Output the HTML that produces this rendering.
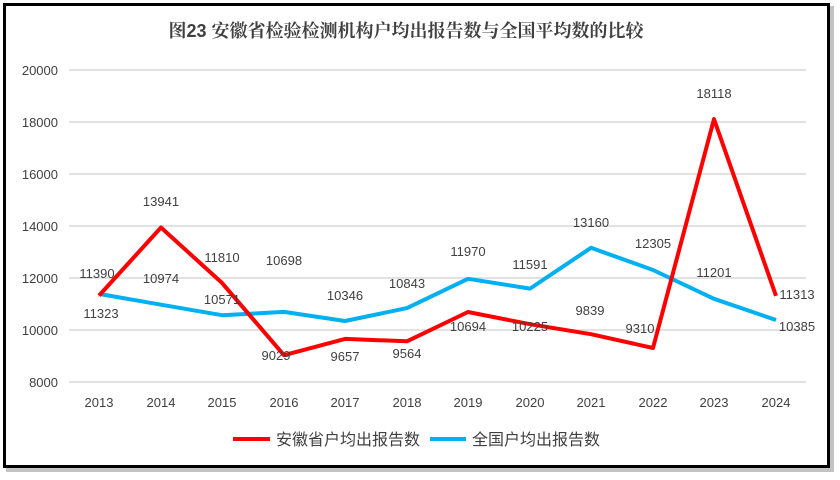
<!DOCTYPE html>
<html><head><meta charset="utf-8"><style>
body{margin:0;width:840px;height:480px;background:#fff;overflow:hidden}
svg{display:block}
text{font-family:"Liberation Sans","Noto Sans CJK SC",sans-serif;fill:#404040}
</style></head><body>
<svg width="840" height="480" viewBox="0 0 840 480">
<rect x="6" y="6" width="828" height="466" fill="#888" opacity="0.5"/>
<rect x="4.5" y="4.5" width="824" height="462" fill="#fff" stroke="#000" stroke-width="3"/>
<text x="406" y="37" font-size="18" font-weight="bold" text-anchor="middle" fill="#404040" style="font-family:'Liberation Sans','Noto Serif CJK SC',serif">图23 安徽省检验检测机构户均出报告数与全国平均数的比较</text>
<g stroke="#d9d9d9" stroke-width="1.5">
<line x1="69" x2="806" y1="70" y2="70"/><line x1="69" x2="806" y1="122" y2="122"/>
<line x1="69" x2="806" y1="174" y2="174"/><line x1="69" x2="806" y1="226" y2="226"/>
<line x1="69" x2="806" y1="278" y2="278"/><line x1="69" x2="806" y1="330" y2="330"/>
<line x1="69" x2="806" y1="382" y2="382"/></g>
<g font-size="13" text-anchor="end">
<text x="58" y="75">20000</text><text x="58" y="127">18000</text><text x="58" y="179">16000</text>
<text x="58" y="231">14000</text><text x="58" y="283">12000</text><text x="58" y="335">10000</text><text x="58" y="387">8000</text></g>
<g font-size="13" text-anchor="middle">
<text x="99" y="407">2013</text><text x="161" y="407">2014</text><text x="222" y="407">2015</text><text x="284" y="407">2016</text>
<text x="345" y="407">2017</text><text x="407" y="407">2018</text><text x="468" y="407">2019</text><text x="530" y="407">2020</text>
<text x="591" y="407">2021</text><text x="653" y="407">2022</text><text x="714" y="407">2023</text><text x="776" y="407">2024</text></g>
<polyline fill="none" stroke="#00b0f0" stroke-width="4" stroke-linejoin="round" points="99,293.9 161,304.7 222,315.2 284,311.9 345,321 407,308.1 468,278.8 530,288.6 591,247.8 653,270 714,298.8 776,320"/>
<polyline fill="none" stroke="#ff0000" stroke-width="4" stroke-linejoin="round" points="99,295.6 161,227.5 222,282.9 284,355.2 345,338.9 407,341.3 468,312 530,324.2 591,334.2 653,348 714,119.1 776,295.9"/>
<g font-size="13" text-anchor="middle">
<text x="101" y="318">11323</text><text x="161" y="206">13941</text><text x="222" y="262">11810</text><text x="276" y="360">9029</text>
<text x="345" y="361">9657</text><text x="407" y="358">9564</text><text x="468" y="331">10694</text><text x="530" y="331">10225</text>
<text x="590" y="315">9839</text><text x="640" y="333">9310</text><text x="714" y="98">18118</text><text x="797" y="299">11313</text>
<text x="97" y="278">11390</text><text x="161" y="283">10974</text><text x="222" y="304">10571</text><text x="284" y="265">10698</text>
<text x="345" y="300">10346</text><text x="407" y="288">10843</text><text x="468" y="256">11970</text><text x="530" y="269">11591</text>
<text x="591" y="227">13160</text><text x="653" y="248">12305</text><text x="714" y="277">11201</text><text x="797" y="331">10385</text></g>
<line x1="233" x2="270" y1="439" y2="439" stroke="#ff0000" stroke-width="4"/>
<text x="276" y="445" font-size="16">安徽省户均出报告数</text>
<line x1="430" x2="466" y1="439" y2="439" stroke="#00b0f0" stroke-width="4"/>
<text x="472" y="445" font-size="16">全国户均出报告数</text>
</svg>
</body></html>
